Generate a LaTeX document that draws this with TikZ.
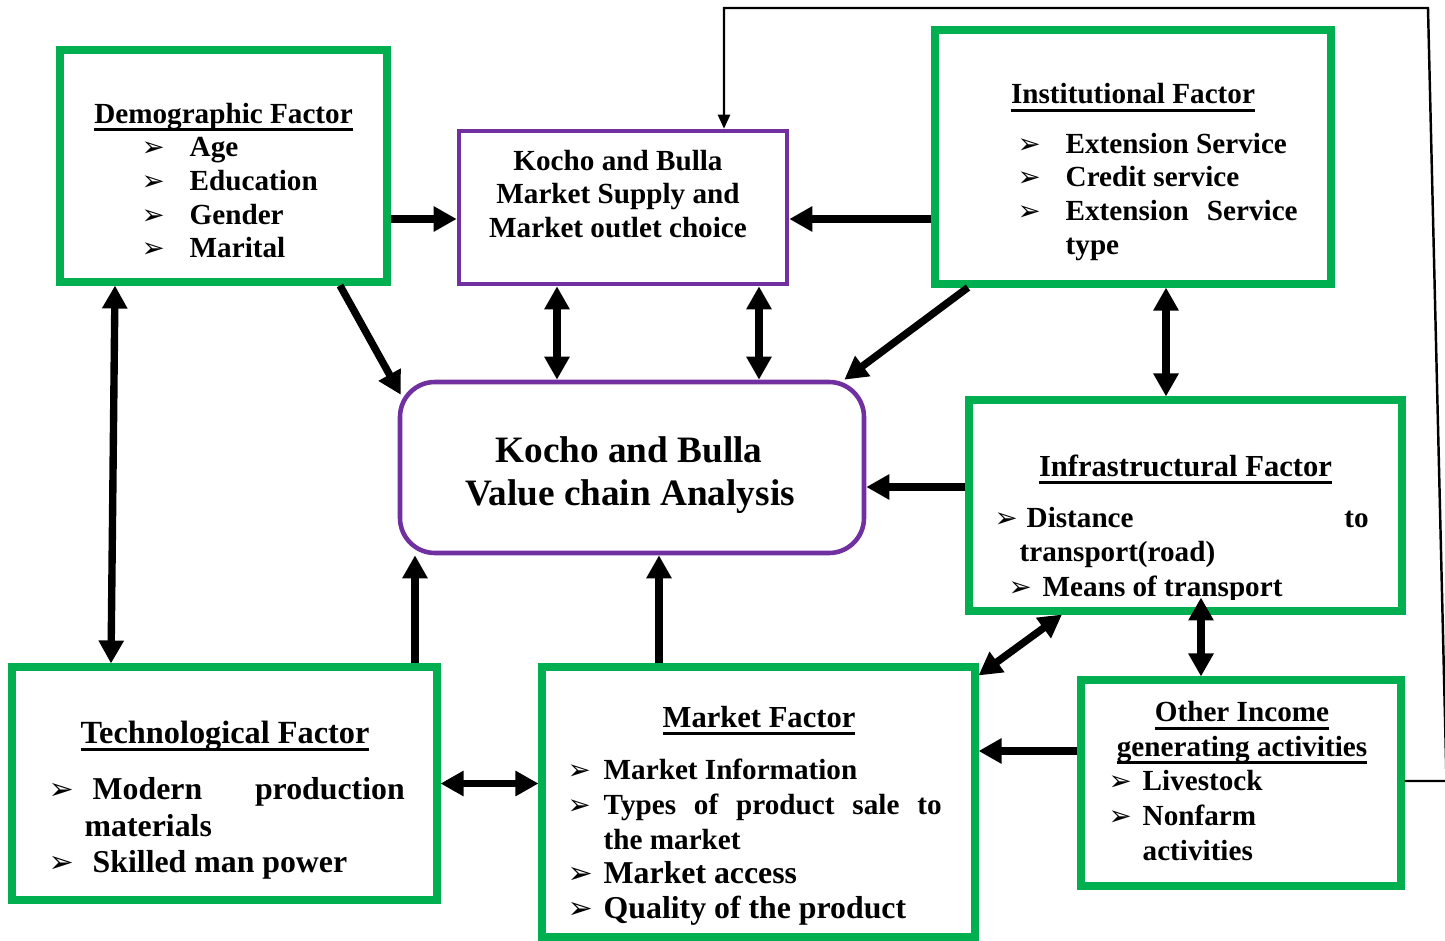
\documentclass[tikz,border=0pt]{standalone}
\usepackage{fontspec}
\setmainfont{Liberation Serif}
\newfontfamily\symfont[Scale=0.95]{DejaVu Sans}
\usepackage{tikz}
\usetikzlibrary{arrows.meta,calc,positioning}
\definecolor{boxgreen}{HTML}{00B050}
\definecolor{boxpurple}{HTML}{7030A0}
\newcommand{\boxfont}{\fontsize{8.3}{10}\selectfont\bfseries}
\newcommand{\midfont}{\fontsize{8.7}{10}\selectfont\bfseries}
\newcommand{\listfont}{\fontsize{9.05}{11}\selectfont\bfseries}
\newcommand{\techfont}{\fontsize{9.2}{11}\selectfont\bfseries}
\newcommand{\bigfont}{\fontsize{10.6}{12}\selectfont\bfseries}
\newcommand{\bul}{{\symfont\char"27A2}}
\newcommand{\itm}[2][0.46cm]{\makebox[#1][l]{\bul}#2}
\newcommand{\utl}[1]{\setbox0\hbox{#1}\rlap{\copy0}\rule[-2.3pt]{\wd0}{0.85pt}}

\begin{document}
\begin{tikzpicture}[
  gbox/.style={draw=boxgreen, line width=2pt, inner sep=0pt},
  pbox/.style={draw=boxpurple, line width=1.3pt, inner sep=0pt},
  txt/.style={inner sep=0pt, font=\boxfont},
  arr/.style={line width=2.1pt, -{Triangle[length=2.3mm,width=2.4mm]}},
  darr/.style={line width=2.1pt, {Triangle[length=2.3mm,width=2.4mm]}-{Triangle[length=2.3mm,width=2.4mm]}},
  fbline/.style={line width=0.7pt, -{Triangle[length=1.4mm,width=1.2mm]}}]
\useasboundingbox (0,0) rectangle (14.45,9.40);
% boxes
\node[gbox, minimum width=3.27cm, minimum height=2.32cm] (demo) at (2.235,7.74) {};
\node[pbox, minimum width=3.28cm, minimum height=1.53cm] (supply) at (6.23,7.325) {};
\node[gbox, minimum width=3.96cm, minimum height=2.54cm] (inst) at (11.33,7.83) {};
\node[pbox, rounded corners=0.35cm, minimum width=4.64cm, minimum height=1.71cm] (central) at (6.32,4.725) {};
\node[gbox, minimum width=4.33cm, minimum height=2.11cm] (infra) at (11.855,4.345) {};
\node[gbox, minimum width=4.25cm, minimum height=2.33cm] (tech) at (2.245,1.565) {};
\node[gbox, minimum width=4.33cm, minimum height=2.70cm] (market) at (7.585,1.38) {};
\node[gbox, minimum width=3.20cm, minimum height=2.06cm] (other) at (12.41,1.57) {};
% demographic
\node[txt, anchor=base] (dT) at (2.235,8.17) {\utl{Demographic Factor}};
\node[txt, anchor=base west] (d1) at (1.41,7.835) {\itm[0.48cm]{Age}};
\node[txt, anchor=base west] (d2) at (1.41,7.495) {\itm[0.48cm]{Education}};
\node[txt, anchor=base west] (d3) at (1.41,7.155) {\itm[0.48cm]{Gender}};
\node[txt, anchor=base west] (d4) at (1.41,6.825) {\itm[0.48cm]{Marital}};
% supply
\node[txt, anchor=base] (s1) at (6.18,7.695) {Kocho and Bulla};
\node[txt, anchor=base] (s2) at (6.18,7.365) {Market Supply and};
\node[txt, anchor=base] (s3) at (6.18,7.025) {Market outlet choice};
% institutional
\node[txt, anchor=base] (iT) at (11.33,8.365) {\utl{Institutional Factor}};
\node[txt, anchor=base west] (i1) at (10.17,7.865) {\itm[0.48cm]{Extension Service}};
\node[txt, anchor=base west] (i2) at (10.17,7.535) {\itm[0.48cm]{Credit service}};
\node[txt, anchor=base west] (i3) at (10.17,7.195) {\itm[0.48cm]{\hbox to 2.32cm{Extension\hfil Service}}};
\node[txt, anchor=base west] (i4) at (10.65,6.86) {type};
% central
\node[txt, font=\bigfont, anchor=base] (c1) at (6.29,4.78) {Kocho and Bulla};
\node[txt, font=\bigfont, anchor=base] (c2) at (6.30,4.35) {Value chain Analysis};
% infrastructural
\node[txt, font=\midfont, anchor=base] (fT) at (11.855,4.64) {\utl{Infrastructural Factor}};
\node[txt, anchor=base west] (f1) at (9.94,4.125) {\itm[0.32cm]{\hbox to 3.42cm{Distance\hfil to}}};
\node[txt, anchor=base west] (f2) at (10.19,3.785) {transport(road)};
\begin{scope}
\clip (9.7,3.41) rectangle (14,3.8);
\node[txt, anchor=base west] (f3) at (10.08,3.435) {\itm[0.34cm]{Means of transport}};
\end{scope}
% technological
\node[txt, font=\techfont, anchor=base] (tT) at (2.25,1.97) {\utl{Technological Factor}};
\node[txt, font=\listfont, anchor=base west] (t1) at (0.48,1.41) {\itm[0.44cm]{\hbox to 3.12cm{Modern\hfil production}}};
\node[txt, font=\listfont, anchor=base west] (t2) at (0.84,1.04) {materials};
\node[txt, font=\listfont, anchor=base west] (t3) at (0.48,0.68) {\itm[0.44cm]{Skilled man power}};
% market
\node[txt, font=\midfont, anchor=base] (mT) at (7.59,2.13) {\utl{Market Factor}};
\node[txt, anchor=base west] (m1) at (5.67,1.605) {\itm[0.36cm]{Market Information}};
\node[txt, anchor=base west] (m2) at (5.67,1.257) {\itm[0.36cm]{\hbox to 3.38cm{Types\hfil of\hfil product\hfil sale\hfil to}}};
\node[txt, anchor=base west] (m3) at (6.03,0.909) {the market};
\node[txt, font=\listfont, anchor=base west] (m4) at (5.67,0.561) {\itm[0.36cm]{Market access}};
\node[txt, font=\listfont, anchor=base west] (m5) at (5.67,0.213) {\itm[0.36cm]{Quality of the product}};
% other income
\node[txt, anchor=base] (oT1) at (12.42,2.185) {\utl{Other Income}};
\node[txt, anchor=base] (oT2) at (12.42,1.84) {\utl{generating activities}};
\node[txt, anchor=base west] (o1) at (11.08,1.495) {\itm[0.34cm]{Livestock}};
\node[txt, anchor=base west] (o2) at (11.08,1.145) {\itm[0.34cm]{Nonfarm}};
\node[txt, anchor=base west] (o3) at (11.42,0.80) {activities};
% arrows
\path ([yshift=-0.53cm]demo.east) coordinate (a1);
\draw[arr] (a1) to (a1 -| supply.west);
\path ([yshift=-0.62cm]inst.west) coordinate (a2);
\draw[arr] (a2) to (a2 -| supply.east);
\draw[arr] ([xshift=1.165cm]demo.south) to ([xshift=0.03cm,yshift=-0.15cm]central.north west);
\path ([xshift=-0.66cm]supply.south) coordinate (a3);
\draw[darr] (a3) to (a3 |- central.north);
\path ([xshift=1.36cm]supply.south) coordinate (a4);
\draw[darr] (a4) to (a4 |- central.north);
\draw[arr] ([xshift=-1.65cm]inst.south) to ([xshift=-0.22cm]central.north east);
\path ([xshift=0.33cm]inst.south) coordinate (a5);
\draw[darr] (a5) to (a5 |- infra.north);
\path ([yshift=0.185cm]infra.west) coordinate (a6);
\draw[arr] (a6) to (a6 -| central.east);
\draw[darr] ([xshift=-1.085cm]demo.south) to ([xshift=-1.135cm]tech.north);
\path ([xshift=1.905cm]tech.north) coordinate (a7);
\draw[arr] (a7) to (a7 |- central.south);
\path ([xshift=-0.995cm]market.north) coordinate (a8);
\draw[arr] (a8) to (a8 |- central.south);
\draw[darr] (tech.east) to (tech.east -| market.west);
\draw[darr] ([yshift=-0.12cm]market.north east) to ([xshift=-1.235cm]infra.south);
\path ([xshift=-0.40cm]other.north) coordinate (a9);
\coordinate (a10) at ([yshift=0.79cm]a9);
\draw[darr] (a9) to (a10);
\path ([yshift=0.32cm]other.west) coordinate (a11);
\draw[arr] (a11) to (a11 -| market.east);
% feedback line
\coordinate (fb1) at ([xshift=0.42cm,yshift=0.02cm]other.east);
\coordinate (fb2) at (14.28,9.32);
\coordinate (fb3) at (7.24,9.32);
\draw[fbline] ([yshift=0.02cm]other.east) -- (fb1) -- (fb2) -- (fb3) -- (fb3 |- supply.north);
\end{tikzpicture}
\end{document}
